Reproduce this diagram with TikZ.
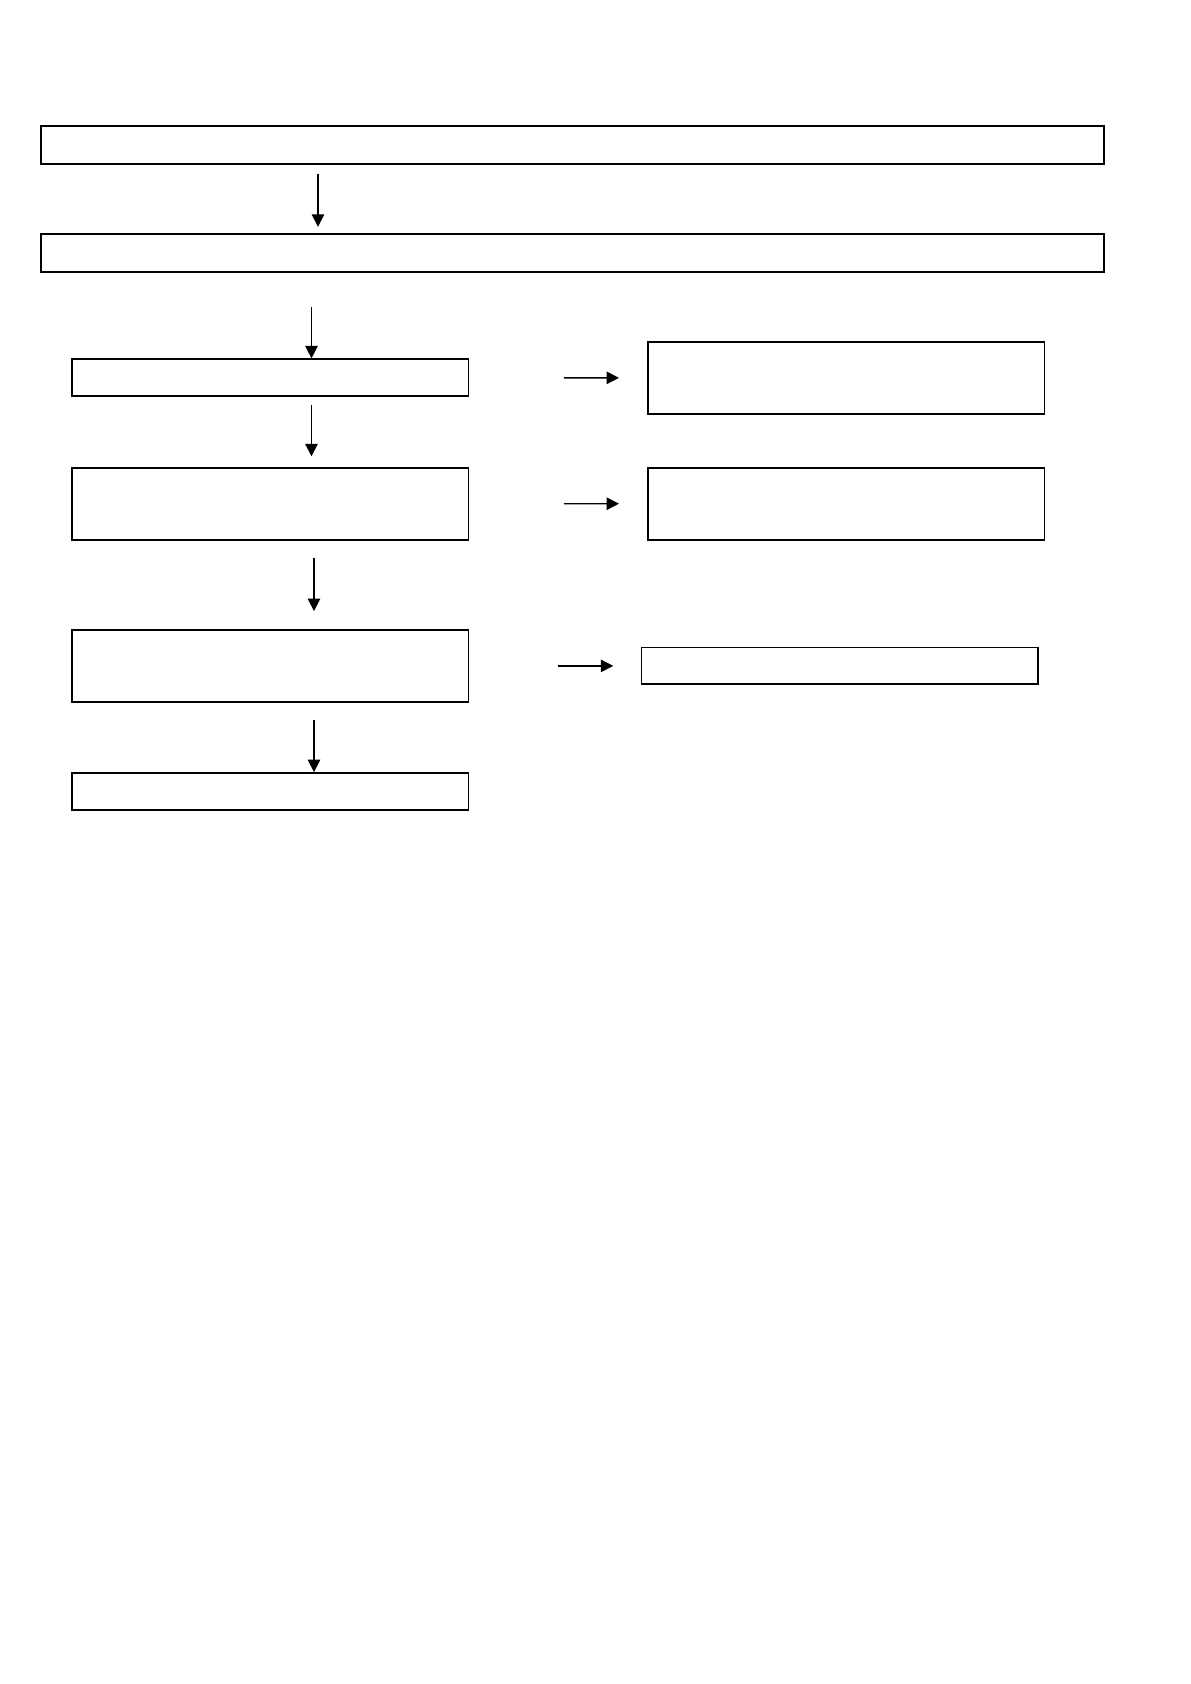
\documentclass[tikz,border=0pt]{standalone}
\usepackage{tikz}
\usetikzlibrary{arrows.meta}

\begin{document}
\begin{tikzpicture}[x=0.5pt,y=-0.5pt,
   box/.style={draw,line width=0.9pt,rectangle,inner sep=0pt},
   arr/.style={-{Triangle[length=6.2pt,width=6.2pt]},line width=0.7pt}]
   \useasboundingbox (0,0) rectangle (1190,1684);
   \node[box,minimum width=531.5pt,minimum height=19pt]   (top)  at (572.8,144.7) {};
   \node[box,minimum width=531.5pt,minimum height=19.2pt] (next) at (572.8,252.9) {};
   \node[box,minimum width=198.2pt,minimum height=18.4pt] (s_1)  at (270.2,377.7) {};
   \node[box,minimum width=198.2pt,minimum height=36pt]   (s_2)  at (270.2,503.8) {};
   \node[box,minimum width=198.2pt,minimum height=35.9pt] (s_3)  at (270.2,665.9) {};
   \node[box,minimum width=198.2pt,minimum height=18.5pt] (s_4)  at (270.2,791.5) {};
   \node[box,minimum width=198.4pt,minimum height=35.9pt] (r_1)  at (846.1,377.9) {};
   \node[box,minimum width=198.4pt,minimum height=36pt]   (r_2)  at (846.1,503.7) {};
   \node[box,line width=0.65pt,minimum width=198.2pt,minimum height=18.2pt] (r_3) at (839.7,665.9) {};
   \coordinate (x_1) at (318,0);
   \coordinate (x_2) at (311.5,0);
   \coordinate (x_3) at (314,0);
    \path[arr]
    (top.south -| x_1) edge [shorten <=4.8pt, shorten >=3pt]   (next.north -| x_1)
    (next.south -| x_2) edge [shorten <=16.9pt]                (s_1.north -| x_2)
    (s_1.south -| x_2) edge [shorten <=3.8pt, shorten >=5.3pt] (s_2.north -| x_2)
    (s_2.south -| x_3) edge [shorten <=8.5pt, shorten >=9pt]   (s_3.north -| x_3)
    (s_3.south -| x_3) edge [shorten <=8.6pt]                  (s_4.north -| x_3)
    (s_1.east) edge [shorten <=47.3pt, shorten >=13.9pt] (r_1.west)
    (s_2.east) edge [shorten <=47.3pt, shorten >=13.9pt] (r_2.west)
    (s_3.east) edge [shorten <=44.3pt, shorten >=13.8pt] (r_3.west);
\end{tikzpicture}
\end{document}
